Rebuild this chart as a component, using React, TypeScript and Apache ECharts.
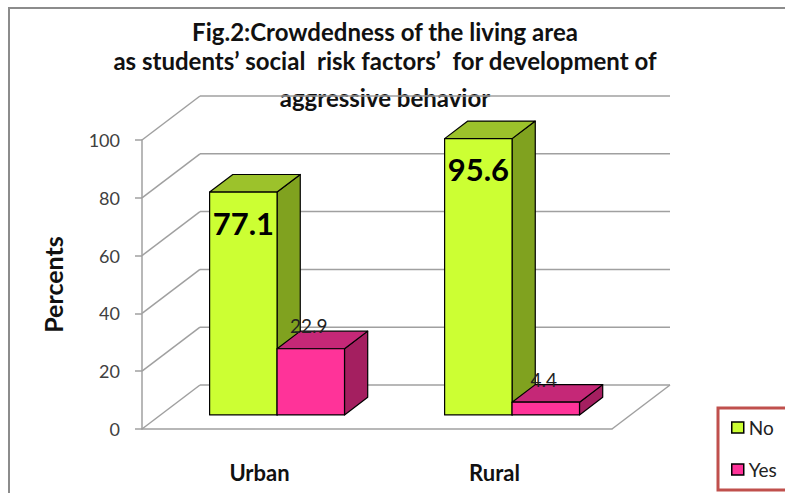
import React, { useEffect, useRef } from "react";
import * as echarts from "echarts";

const categories = ["Urban", "Rural"];
const noValues = [77.1, 95.6];
const yesValues = [22.9, 4.4];
const seriesNames = ["No", "Yes"];
const yTicks = [0, 20, 40, 60, 80, 100];
const titleLines = [
  "Fig.2:Crowdedness of the living area",
  "as students\u2019 social  risk factors\u2019  for development of",
  "aggressive behavior",
];
const yAxisTitle = "Percents";

const DEPTH_X = 58;
const DEPTH_Y = -44;
const BAR_FRONT = 0.32;
const BAR_BACK = 0.72;
const FONT = "Lato, 'Open Sans', sans-serif";
const GRID_COLOR = "#a0a0a0";

type Palette = { front: string; side: string; top: string };
const noPalette: Palette = { front: "#CCFF33", side: "#80A21F", top: "#9CC22B" };
const yesPalette: Palette = { front: "#FF3399", side: "#A41F60", top: "#C52877" };

function makeBarRenderer(slot: number, pal: Palette, big: boolean) {
  return (params: any, api: any) => {
    const cat = api.value(0);
    const val = api.value(1);
    const base = api.coord([cat, 0]);
    const topP = api.coord([cat, val]);
    const catW = api.size([1, 0])[0];
    const bw = catW * 0.287;
    const cx = base[0] - 1;
    const x0 = cx + slot * bw;
    const x1 = x0 + bw;
    const fdx = BAR_FRONT * DEPTH_X;
    const fdy = BAR_FRONT * DEPTH_Y;
    const bdx = BAR_BACK * DEPTH_X;
    const bdy = BAR_BACK * DEPTH_Y;
    const yb = base[1];
    const yt = topP[1];
    const stroke = { stroke: "#000", lineWidth: 1.2, lineJoin: "round" };
    const frontTop = yt + fdy;
    const frontCx = (x0 + x1) / 2 + fdx;
    const label = big
      ? {
          type: "text",
          style: {
            text: String(val),
            x: frontCx,
            y: frontTop + 30.5,
            align: "center",
            verticalAlign: "middle",
            font: `bold 31px ${FONT}`,
            fill: "#000",
          },
        }
      : {
          type: "text",
          style: {
            text: String(val),
            x: frontCx - 2,
            y: frontTop - 23,
            align: "center",
            verticalAlign: "middle",
            font: `19px ${FONT}`,
            fill: "#222",
          },
        };
    return {
      type: "group",
      children: [
        {
          type: "polygon",
          shape: {
            points: [
              [x1 + fdx, yt + fdy],
              [x1 + bdx, yt + bdy],
              [x1 + bdx, yb + bdy],
              [x1 + fdx, yb + fdy],
            ],
          },
          style: { fill: pal.side, ...stroke },
        },
        {
          type: "polygon",
          shape: {
            points: [
              [x0 + fdx, yt + fdy],
              [x0 + bdx, yt + bdy],
              [x1 + bdx, yt + bdy],
              [x1 + fdx, yt + fdy],
            ],
          },
          style: { fill: pal.top, ...stroke },
        },
        {
          type: "rect",
          shape: { x: x0 + fdx, y: yt + fdy, width: bw, height: yb - yt },
          style: { fill: pal.front, ...stroke },
        },
        label,
      ],
    };
  };
}

const wallRenderer = (params: any, api: any) => {
  const cs = params.coordSys;
  const left = cs.x;
  const right = cs.x + cs.width;
  const st = { stroke: GRID_COLOR, lineWidth: 1.5 };
  const children: any[] = [];
  yTicks.forEach((v) => {
    const y = api.coord([0, v])[1];
    children.push({
      type: "line",
      shape: { x1: left, y1: y, x2: left + DEPTH_X, y2: y + DEPTH_Y },
      style: st,
    });
    children.push({
      type: "line",
      shape: { x1: left + DEPTH_X, y1: y + DEPTH_Y, x2: right + DEPTH_X, y2: y + DEPTH_Y },
      style: st,
    });
  });
  const y0 = api.coord([0, 0])[1];
  children.push({
    type: "line",
    shape: { x1: right, y1: y0, x2: right + DEPTH_X, y2: y0 + DEPTH_Y },
    style: st,
  });
  return { type: "group", children };
};

export default function App() {
  const ref = useRef<HTMLDivElement>(null);
  useEffect(() => {
    if (!ref.current) return;
    const chart = echarts.init(ref.current, undefined, { renderer: "svg" });
    const titleY = [31, 60, 97];
    chart.setOption({
      animation: false,
      backgroundColor: "#fff",
      grid: { left: 142, right: 173, top: 140, bottom: 64 },
      xAxis: {
        type: "category",
        data: categories,
        axisLine: { lineStyle: { color: GRID_COLOR, width: 1.5 } },
        axisTick: { length: 8, lineStyle: { color: GRID_COLOR, width: 1.5 } },
        axisLabel: {
          margin: 32,
          fontSize: 22,
          fontWeight: "bold",
          color: "#111",
          fontFamily: FONT,
        },
      },
      yAxis: {
        type: "value",
        min: 0,
        max: 100,
        interval: 20,
        name: yAxisTitle,
        nameLocation: "middle",
        nameRotate: 90,
        nameGap: 77,
        nameTextStyle: { fontSize: 25, fontWeight: "bold", color: "#111", fontFamily: FONT },
        axisLine: { show: true, lineStyle: { color: GRID_COLOR, width: 1.5 } },
        axisTick: { show: true, length: 7, lineStyle: { color: GRID_COLOR, width: 1.5 } },
        axisLabel: { margin: 22, fontSize: 18, color: "#404040", fontFamily: FONT },
        splitLine: { show: false },
      },
      legend: {
        orient: "vertical",
        left: 726,
        top: 413,
        itemWidth: 12,
        itemHeight: 11,
        itemGap: 23,
        icon: "rect",
        data: seriesNames,
        itemStyle: { borderColor: "#000", borderWidth: 1.5 },
        textStyle: { fontSize: 19, color: "#222", fontFamily: FONT },
      },
      graphic: [
        {
          type: "rect",
          shape: { x: 9, y: 8, width: 900, height: 600 },
          style: { fill: "none", stroke: "#8c8c8c", lineWidth: 2 },
          z: -10,
        },
        {
          type: "rect",
          shape: { x: 718, y: 408, width: 100, height: 82 },
          style: { fill: "none", stroke: "#C0504D", lineWidth: 3 },
        },
        ...titleLines.map((t, i) => ({
          type: "text",
          style: {
            text: t,
            x: 385,
            y: titleY[i],
            align: "center",
            verticalAlign: "middle",
            textAlign: "center",
            textVerticalAlign: "middle",
            font: `bold 24px ${FONT}`,
            fill: "#111",
          },
        })),
      ],
      series: [
        {
          type: "custom",
          name: "walls",
          z: 1,
          silent: true,
          clip: false,
          renderItem: wallRenderer,
          data: [[0, 0]],
        },
        {
          type: "custom",
          name: seriesNames[0],
          z: 2,
          clip: false,
          itemStyle: { color: noPalette.front },
          renderItem: makeBarRenderer(-1, noPalette, true),
          data: noValues.map((v, i) => [i, v]),
        },
        {
          type: "custom",
          name: seriesNames[1],
          z: 3,
          clip: false,
          itemStyle: { color: yesPalette.front },
          renderItem: makeBarRenderer(0, yesPalette, false),
          data: yesValues.map((v, i) => [i, v]),
        },
      ],
    });
    return () => chart.dispose();
  }, []);
  return (
    <div
      ref={ref}
      style={{ position: "fixed", left: 0, top: 0, width: 785, height: 493 }}
    />
  );
}
